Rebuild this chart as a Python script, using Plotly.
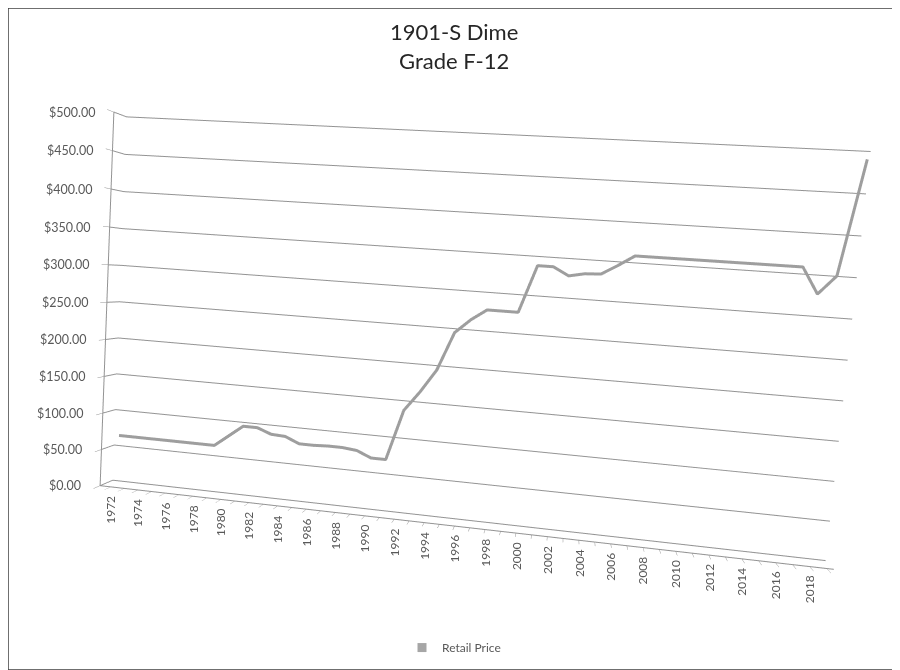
import math
import plotly.graph_objects as go

years = list(range(1972, 2020))
prices = [68, 68, 68, 68, 68, 68, 68, 68, 83, 98,
          98, 91, 90, 82, 82, 83, 83, 81, 73, 73,
          140, 166, 196, 246, 264, 278, 278, 278, 338, 338,
          328, 332, 333, 345, 358, 358, 358, 358, 358, 358,
          358, 358, 358, 358, 358, 327, 350, 488]
value_ticks = list(range(0, 501, 50))
value_labels = ["${:,.2f}".format(v) for v in value_ticks]
year_labels = list(range(1972, 2019, 2))

series_name = "Retail Price"
title_text = "1901-S Dime<br>Grade F-12"

# camera (yaw / pitch / roll of the 3-D view)
dist, yaw, pitch, roll = 2.0, math.radians(7.8), math.radians(4.5), math.radians(4.1)
center = dict(x=-0.012, y=0, z=-0.024)
eye = dict(x=center["x"] + dist * math.sin(yaw) * math.cos(pitch),
           y=center["y"] - dist * math.cos(yaw) * math.cos(pitch),
           z=center["z"] + dist * math.sin(pitch))
up = dict(x=-math.sin(roll), y=0, z=math.cos(roll))

grey_txt = "#595959"
grid_col = "#939393"
x_min, x_max = 1971.2, 2019.4

fig = go.Figure()
fig.add_trace(go.Scatter3d(
    x=years, y=[0.5] * len(years), z=prices,
    mode="lines", line=dict(color="#9e9e9e", width=6),
    name=series_name, showlegend=False, hoverinfo="skip"))

# legend swatch (square marker like Excel)
fig.add_trace(go.Scatter(x=[None], y=[None], mode="markers",
                         marker=dict(symbol="square", size=9, color="#a6a6a6"),
                         name=series_name, showlegend=True, hoverinfo="skip"))

annos = []
for yr in year_labels:
    annos.append(dict(x=yr, y=0, z=0, text=str(yr), showarrow=False,
                      textangle=-90, xanchor="center", yanchor="top",
                      yshift=-7, font=dict(family="Lato", size=12, color=grey_txt)))
for v, lab in zip(value_ticks, value_labels):
    annos.append(dict(x=x_min + 0.05, y=0.001, z=max(v, 0.01), text=lab, showarrow=False,
                      xanchor="right", yanchor="middle", xshift=-18,
                      font=dict(family="Lato", size=12.5, color=grey_txt)))

axis_common = dict(showbackground=False, showspikes=False, zeroline=False, title="")
fig.update_layout(
    width=892, height=662,
    margin=dict(l=0, r=0, t=0, b=0),
    paper_bgcolor="white", plot_bgcolor="white",
    annotations=[dict(text=title_text, x=0.5, y=0.943, xref="paper", yref="paper",
                      xanchor="center", yanchor="middle", showarrow=False,
                      font=dict(family="Lato", size=22, color="#262626"))],
    xaxis=dict(visible=False), yaxis=dict(visible=False),
    showlegend=True,
    legend=dict(orientation="h", x=0.5, xanchor="center", y=0.012, yanchor="bottom",
                bgcolor="rgba(0,0,0,0)",
                font=dict(family="Lato", size=12, color=grey_txt)),
    scene=dict(
        domain=dict(x=[0.0, 1.0], y=[0.0, 1.0]),
        bgcolor="rgba(0,0,0,0)",
        dragmode="orbit",
        aspectmode="manual", aspectratio=dict(x=1.86, y=0.06, z=0.98),
        camera=dict(eye=eye, center=center, up=up,
                    projection=dict(type="perspective")),
        xaxis=dict(range=[x_min, x_max], showgrid=False, showticklabels=False,
                   ticks="outside", dtick=1, tick0=1972, ticklen=4, tickcolor=grid_col,
                   showline=True, linecolor=grid_col, linewidth=2, **axis_common),
        yaxis=dict(range=[0, 1], showgrid=False, showticklabels=False, ticks="",
                   showline=False, **axis_common),
        zaxis=dict(range=[0, 500], tickvals=value_ticks, showticklabels=False,
                   showgrid=True, gridcolor=grid_col, gridwidth=2,
                   ticks="outside", ticklen=6, tickcolor=grid_col,
                   showline=True, linecolor=grid_col, linewidth=2,
                   **axis_common),
        annotations=annos,
    ),
    shapes=[dict(type="rect", xref="paper", yref="paper", x0=0.0, y0=0.0,
                 x1=1.0, y1=1.0, line=dict(color="#404040", width=1.5))],
)

fig.write_html("out.html")
